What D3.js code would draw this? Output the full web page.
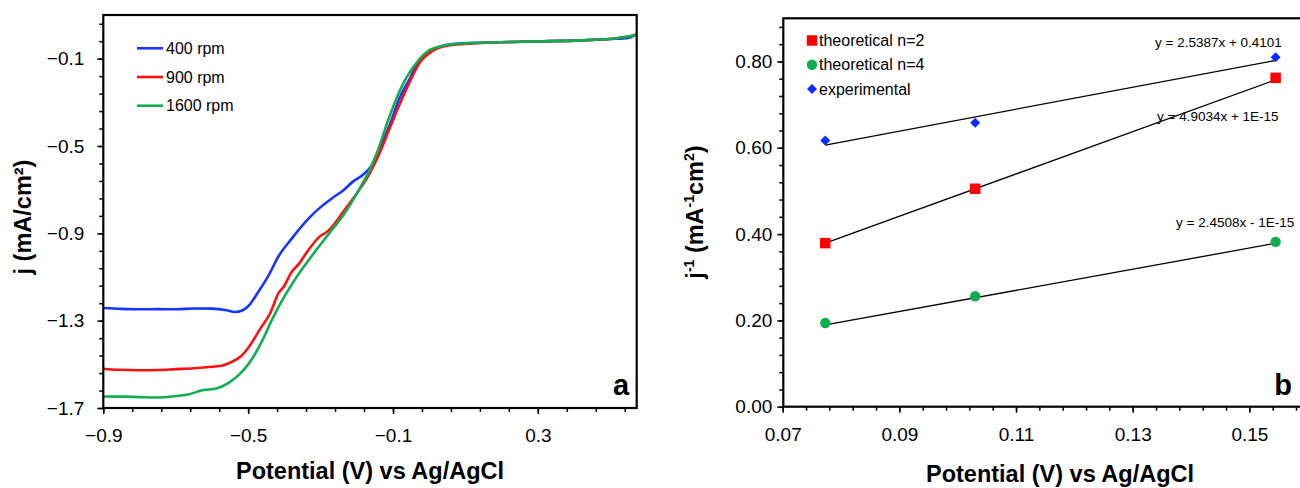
<!DOCTYPE html>
<html>
<head>
<meta charset="utf-8">
<script src="https://cdn.jsdelivr.net/npm/d3@7"></script>
<style>
  html, body { margin: 0; padding: 0; background: #fff; }
  svg { display: block; font-family: "Liberation Sans", Arial, sans-serif; }
</style>
</head>
<body>
<svg id="fig" width="1300" height="488"></svg>
<script>
// ---------- Panel a: linear sweep voltammograms at three rotation rates ----------
const rpmLabels = ["400 rpm", "900 rpm", "1600 rpm"];

const v400 = [-0.9, -0.85, -0.8, -0.75, -0.7, -0.65, -0.6, -0.56, -0.537, -0.515, -0.495, -0.474, -0.445, -0.416, -0.382, -0.336, -0.30, -0.267, -0.235, -0.21, -0.185, -0.164, -0.147, -0.13, -0.107, -0.084, -0.055, -0.027, 0.002, 0.031, 0.065, 0.12, 0.191, 0.3, 0.42, 0.5, 0.55, 0.572];
const j400 = [-1.242, -1.246, -1.248, -1.247, -1.248, -1.244, -1.245, -1.252, -1.260, -1.252, -1.225, -1.173, -1.097, -1.005, -0.929, -0.837, -0.78, -0.738, -0.70, -0.662, -0.635, -0.601, -0.555, -0.486, -0.395, -0.288, -0.196, -0.105, -0.066, -0.044, -0.033, -0.028, -0.025, -0.021, -0.016, -0.010, -0.005, 0.012];

const v900 = [-0.9, -0.86, -0.8, -0.75, -0.7, -0.65, -0.6, -0.57, -0.548, -0.52, -0.497, -0.468, -0.439, -0.416, -0.40, -0.382, -0.36, -0.336, -0.302, -0.28, -0.267, -0.233, -0.199, -0.164, -0.141, -0.107, -0.084, -0.055, -0.027, 0.008, 0.053, 0.12, 0.191, 0.3, 0.42, 0.5, 0.572];
const j900 = [-1.520, -1.525, -1.527, -1.526, -1.522, -1.518, -1.511, -1.505, -1.491, -1.463, -1.418, -1.341, -1.265, -1.173, -1.14, -1.082, -1.04, -0.982, -0.914, -0.89, -0.868, -0.791, -0.715, -0.624, -0.547, -0.410, -0.318, -0.211, -0.120, -0.066, -0.040, -0.030, -0.025, -0.021, -0.016, -0.010, 0.008];

const v1600 = [-0.9, -0.84, -0.8, -0.749, -0.7, -0.669, -0.623, -0.588, -0.554, -0.525, -0.497, -0.462, -0.434, -0.405, -0.371, -0.325, -0.279, -0.233, -0.199, -0.164, -0.141, -0.113, -0.084, -0.061, -0.032, -0.004, 0.031, 0.08, 0.191, 0.3, 0.42, 0.5, 0.572];
const j1600 = [-1.647, -1.648, -1.650, -1.652, -1.645, -1.639, -1.618, -1.611, -1.585, -1.547, -1.494, -1.395, -1.295, -1.204, -1.112, -1.005, -0.906, -0.807, -0.715, -0.608, -0.517, -0.380, -0.257, -0.181, -0.112, -0.066, -0.044, -0.032, -0.025, -0.021, -0.016, -0.010, 0.008];

const aXTicks = [-0.9, -0.5, -0.1, 0.3];
const aYTicks = [-1.7, -1.3, -0.9, -0.5, -0.1];

// ---------- Panel b: Koutecky-Levich plot ----------
const klNames = ["theoretical n=2", "theoretical n=4", "experimental"];
const omegaInvSqrt = [0.0773, 0.1030, 0.1545];
const jInvN2 = [0.379, 0.505, 0.762];
const jInvN4 = [0.194, 0.256, 0.382];
const jInvExp = [0.617, 0.658, 0.810];
// trendline coefficients [slope, intercept] and their labels
const fitN2 = [4.9034, 1e-15];
const fitN4 = [2.4508, -1e-15];
const fitExp = [2.5387, 0.4101];
const fitLabels = ["y = 4.9034x + 1E-15", "y = 2.4508x - 1E-15", "y = 2.5387x + 0.4101"];

const bXTicks = [0.07, 0.09, 0.11, 0.13, 0.15];
const bYTicks = [0.00, 0.20, 0.40, 0.60, 0.80];

const svg = d3.select("#fig");
const FONT = "'Liberation Sans', Arial, sans-serif";

function range(a, b, step) {
  const out = [];
  const n = Math.round((b - a) / step);
  for (let i = 0; i <= n; i++) out.push(+(a + i * step).toFixed(6));
  return out;
}

// ======================= Panel a =======================
const ax = d3.scaleLinear().domain([-0.9, 0.573]).range([103.3, 636.7]);
const ay = d3.scaleLinear().domain([-1.7, 0.1]).range([408, 15]);

const ga = svg.append("g");

// minor ticks
ga.append("g").attr("transform", "translate(0,408)")
  .call(d3.axisBottom(ax).tickValues(range(-0.9, 0.5, 0.08)).tickSize(4).tickFormat(""))
  .call(g => g.select(".domain").remove());
ga.append("g").attr("transform", "translate(103.3,0)")
  .call(d3.axisLeft(ay).tickValues(range(-1.7, 0.06, 0.08)).tickSize(4).tickFormat(""))
  .call(g => g.select(".domain").remove());

// major ticks and labels
ga.append("g").attr("transform", "translate(0,408)")
  .call(d3.axisBottom(ax).tickValues(aXTicks).tickSize(6).tickPadding(15).tickFormat(d3.format(".1f")))
  .call(g => g.select(".domain").remove())
  .call(g => g.selectAll("text").attr("font-size", 19).attr("font-family", FONT).attr("fill", "#000"));
ga.append("g").attr("transform", "translate(103.3,0)")
  .call(d3.axisLeft(ay).tickValues(aYTicks).tickSize(6).tickPadding(13).tickFormat(d3.format(".1f")))
  .call(g => g.select(".domain").remove())
  .call(g => g.selectAll("text").attr("font-size", 19).attr("font-family", FONT).attr("fill", "#000"));

ga.selectAll(".tick line").attr("stroke", "#000").attr("stroke-width", 1.5);

const curvesA = [
  { v: v400, j: j400, color: "#1436ff" },
  { v: v900, j: j900, color: "#ff1010" },
  { v: v1600, j: j1600, color: "#0fae4f" }
];
const lineA = d3.line().x(d => ax(d[0])).y(d => ay(d[1])).curve(d3.curveMonotoneX);

ga.append("defs").append("clipPath").attr("id", "clipA")
  .append("rect").attr("x", 103.3).attr("y", 15).attr("width", 636.7 - 103.3).attr("height", 408 - 15);

const plotA = ga.append("g").attr("clip-path", "url(#clipA)");
curvesA.forEach(c => {
  plotA.append("path")
    .datum(c.v.map((v, i) => [v, c.j[i]]))
    .attr("d", lineA)
    .attr("fill", "none")
    .attr("stroke", c.color)
    .attr("stroke-width", 2.6)
    .attr("stroke-linejoin", "round");
});

// frame
ga.append("rect").attr("x", 103.3).attr("y", 15).attr("width", 636.7 - 103.3).attr("height", 408 - 15)
  .attr("fill", "none").attr("stroke", "#000").attr("stroke-width", 2.2);

// legend
const legA = ga.append("g");
rpmLabels.forEach((lab, i) => {
  const y = 48.3 + i * 28.7;
  legA.append("line").attr("x1", 137).attr("x2", 163).attr("y1", y).attr("y2", y)
    .attr("stroke", curvesA[i].color).attr("stroke-width", 2.6);
  legA.append("text").attr("x", 166).attr("y", y).attr("dy", "0.35em")
    .attr("font-size", 16).attr("font-family", FONT).text(lab);
});

// axis titles
ga.append("text").attr("x", 370).attr("y", 479).attr("text-anchor", "middle")
  .attr("font-size", 23.5).attr("font-weight", "bold").attr("font-family", FONT)
  .text("Potential (V) vs Ag/AgCl");
ga.append("text").attr("transform", "translate(31,217) rotate(-90)").attr("text-anchor", "middle")
  .attr("font-size", 23.5).attr("font-weight", "bold").attr("font-family", FONT)
  .text("j (mA/cm²)");

ga.append("text").attr("x", 621).attr("y", 395).attr("text-anchor", "middle")
  .attr("font-size", 29).attr("font-weight", "bold").attr("font-family", FONT).text("a");

// ======================= Panel b =======================
const bx = d3.scaleLinear().domain([0.07, 0.16]).range([782.7, 1307.7]);
const by = d3.scaleLinear().domain([0, 0.9]).range([406.7, 18.3]);

const gb = svg.append("g");

gb.append("g").attr("transform", "translate(0,406.7)")
  .call(d3.axisBottom(bx).tickValues(range(0.07, 0.158, 0.004)).tickSize(4).tickFormat(""))
  .call(g => g.select(".domain").remove());
gb.append("g").attr("transform", "translate(783.3,0)")
  .call(d3.axisLeft(by).tickValues(range(0, 0.88, 0.04)).tickSize(4).tickFormat(""))
  .call(g => g.select(".domain").remove());

gb.append("g").attr("transform", "translate(0,406.7)")
  .call(d3.axisBottom(bx).tickValues(bXTicks).tickSize(6).tickPadding(15).tickFormat(d3.format(".2f")))
  .call(g => g.select(".domain").remove())
  .call(g => g.selectAll("text").attr("font-size", 19).attr("font-family", FONT).attr("fill", "#000"));
gb.append("g").attr("transform", "translate(783.3,0)")
  .call(d3.axisLeft(by).tickValues(bYTicks).tickSize(6).tickPadding(5).tickFormat(d3.format(".2f")))
  .call(g => g.select(".domain").remove())
  .call(g => g.selectAll("text").attr("font-size", 19).attr("font-family", FONT).attr("fill", "#000"));

gb.selectAll(".tick line").attr("stroke", "#000").attr("stroke-width", 1.5);

// trendlines
const xs = d3.extent(omegaInvSqrt);
[fitExp, fitN2, fitN4].forEach(f => {
  gb.append("line")
    .attr("x1", bx(xs[0])).attr("y1", by(f[0] * xs[0] + f[1]))
    .attr("x2", bx(xs[1])).attr("y2", by(f[0] * xs[1] + f[1]))
    .attr("stroke", "#000").attr("stroke-width", 1.3);
});

// markers
const RED = "#ff0000", GREEN = "#0fae4f", BLUE = "#0a2cff";
const sqSym = d3.symbol().type(d3.symbolSquare).size(110);
const ciSym = d3.symbol().type(d3.symbolCircle).size(85);
// diamond as a square turned 45 degrees
const diSym = () => "M0,-5L5,0L0,5L-5,0Z";

function drawPts(vals, sym, color) {
  gb.append("g").selectAll("path").data(vals).join("path")
    .attr("transform", (d, i) => `translate(${bx(omegaInvSqrt[i])},${by(d)})`)
    .attr("d", sym).attr("fill", color);
}
drawPts(jInvN2, sqSym, RED);
drawPts(jInvN4, ciSym, GREEN);
drawPts(jInvExp, diSym, BLUE);

// trendline equations
gb.append("text").attr("x", 1155).attr("y", 47).attr("font-size", 13.5).attr("font-family", FONT).text(fitLabels[2]);
gb.append("text").attr("x", 1157).attr("y", 121).attr("font-size", 13.5).attr("font-family", FONT).text(fitLabels[0]);
gb.append("text").attr("x", 1176).attr("y", 227).attr("font-size", 13.5).attr("font-family", FONT).text(fitLabels[1]);

// frame (right edge runs past the canvas)
gb.append("rect").attr("x", 783.3).attr("y", 18.3).attr("width", 1307.7 - 783.3).attr("height", 406.7 - 18.3)
  .attr("fill", "none").attr("stroke", "#000").attr("stroke-width", 2.2);

// legend
const legB = gb.append("g");
const legSyms = [sqSym, ciSym, diSym];
const legCols = [RED, GREEN, BLUE];
klNames.forEach((name, i) => {
  const y = 40.5 + i * 24.3;
  legB.append("path").attr("transform", `translate(812,${y})`).attr("d", legSyms[i]).attr("fill", legCols[i]);
  legB.append("text").attr("x", 819).attr("y", y).attr("dy", "0.35em")
    .attr("font-size", 16).attr("font-family", FONT).text(name);
});

// axis titles
gb.append("text").attr("x", 1060).attr("y", 482).attr("text-anchor", "middle")
  .attr("font-size", 23.5).attr("font-weight", "bold").attr("font-family", FONT)
  .text("Potential (V) vs Ag/AgCl");

const yt = gb.append("text").attr("transform", "translate(703,212) rotate(-90)").attr("text-anchor", "middle")
  .attr("font-size", 23.5).attr("font-weight", "bold").attr("font-family", FONT);
yt.append("tspan").text("j");
yt.append("tspan").attr("font-size", 14).attr("dy", -9).text("-1");
yt.append("tspan").attr("dy", 9).text(" (mA");
yt.append("tspan").attr("font-size", 14).attr("dy", -9).text("-1");
yt.append("tspan").attr("dy", 9).text("cm");
yt.append("tspan").attr("font-size", 14).attr("dy", -9).text("2");
yt.append("tspan").attr("dy", 9).text(")");

gb.append("text").attr("x", 1283).attr("y", 395).attr("text-anchor", "middle")
  .attr("font-size", 29).attr("font-weight", "bold").attr("font-family", FONT).text("b");
</script>
</body>
</html>
